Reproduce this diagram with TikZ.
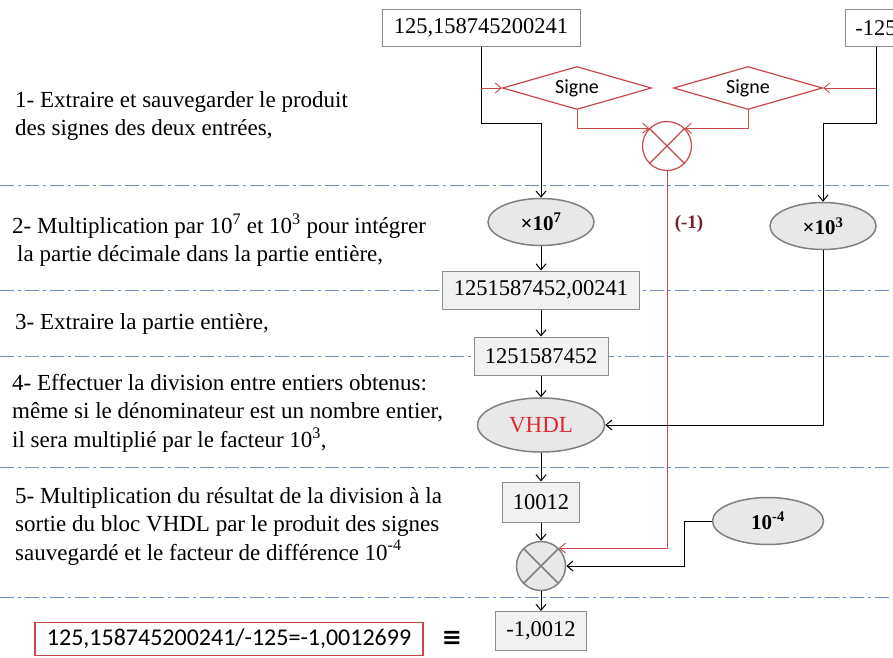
\documentclass[tikz,border=0pt]{standalone}
\usepackage{fontspec}
\setmainfont{Liberation Serif}
\newfontfamily\calib{Carlito}
\newfontfamily\dejavu{DejaVu Sans}
\usetikzlibrary{shapes.geometric,arrows.meta}
\definecolor{sigred}{RGB}{200,72,72}
\definecolor{vhdlred}{RGB}{225,40,50}
\definecolor{negred}{RGB}{120,30,40}
\definecolor{boxgray}{RGB}{140,140,140}
\definecolor{boxfill}{RGB}{242,242,242}
\definecolor{ellgray}{RGB}{128,128,128}
\definecolor{ellfill}{RGB}{232,232,232}
\definecolor{sepblue}{RGB}{110,140,190}
\tikzset{
  numbox/.style={draw=boxgray,fill=boxfill,line width=1pt,minimum height=38pt,inner sep=0pt,font=\fontsize{22.5}{27}\selectfont},
  inbox/.style={numbox,fill=white},
  gain/.style={ellipse,draw=ellgray,fill=ellfill,line width=1.5pt,inner sep=0pt,minimum width=106pt,minimum height=47pt,font=\bfseries\fontsize{21}{25}\selectfont},
  signbox/.style={diamond,aspect=3.5,draw=sigred,line width=1.2pt,inner sep=0pt,minimum width=149pt,minimum height=43pt,font=\calib\fontsize{20}{24}\selectfont},
  mult/.style={circle,minimum size=49pt,inner sep=0pt},
  sep/.style={draw=sepblue,line width=0.8pt,dash pattern=on 14pt off 4pt on 3pt off 4pt},
  steptext/.style={anchor=west,align=left,inner sep=0pt,font=\fontsize{23}{28.5}\selectfont},
  arr/.style={-{Straight Barb[length=6pt,width=10pt]},line width=1pt},
  redarr/.style={arr,draw=sigred,line width=0.9pt},
}
\begin{document}
\begin{tikzpicture}[x=1pt,y=-1pt]
\useasboundingbox (0,0) rectangle (893,657);
\clip (0,0) rectangle (893,657);
\fill[white] (0,0) rectangle (893,657);

\foreach \y in {185,290,356,467,597}
  \draw[sep] (0,\y) -- (893,\y);

\node[steptext] (t1) at (15,116) {1- Extraire et sauvegarder le produit\\des signes des deux entrées,};
\node[steptext] (t2) at (12,240) {2- Multiplication par 10\textsuperscript{7} et 10\textsuperscript{3} pour intégrer\\\hspace{5pt}la partie décimale dans la partie entière,};
\node[steptext] (t3) at (15,324) {3- Extraire la partie entière,};
\node[steptext] (t4) at (12,413) {4- Effectuer la division entre entiers obtenus:\\même si le dénominateur est un nombre entier,\\il sera multiplié par le facteur 10\textsuperscript{3},};
\node[steptext] (t5) at (15,526) {5- Multiplication du résultat de la division à la\\sortie du bloc VHDL par le produit des signes\\sauvegardé et le facteur de différence 10\textsuperscript{-4}};

\node[inbox,minimum width=198pt,minimum height=37pt] (in1) at (481,28) {125,158745200241};
\node[inbox,minimum width=62pt,minimum height=37pt] (in2) at (876,28) {-125};
\node[signbox] (s1) at (577,88) {Signe};
\node[signbox] (s2) at (748,88) {Signe};
\node[mult,draw=sigred,line width=1.2pt] (m1) at (667,146) {};
\coordinate (j1) at (0,123);

\node[gain] (e7) at (541,222) {×10\textsuperscript{7}};
\node[gain] (e3) at (823,226) {×10\textsuperscript{3}};
\node[text=negred,font=\bfseries\fontsize{19}{23}\selectfont] (neg) at (689,224) {(-1)};
\node[numbox,minimum width=197pt] (b1) at (541,290) {1251587452,00241};
\node[numbox,minimum width=134pt] (b2) at (541,356) {1251587452};
\node[gain,minimum width=127pt,minimum height=54pt,text=vhdlred,font=\fontsize{23}{27}\selectfont] (vh) at (541,425) {VHDL};
\node[numbox,minimum width=77pt,minimum height=40pt] (b3) at (541,502) {10012};
\node[mult,draw=ellgray,fill=ellfill,line width=1.5pt] (m2) at (541,566) {};
\node[gain,minimum width=111pt] (e4) at (768,521) {10\textsuperscript{-4}};
\node[numbox,minimum width=91pt,minimum height=39pt] (out) at (541,631) {-1,0012};
\node[draw=sigred,line width=1.2pt,minimum width=388pt,minimum height=33pt,inner sep=0pt,font=\calib\fontsize{24}{28}\selectfont] (res) at (229,639) {125,158745200241/-125=-1,0012699};
\node[font=\dejavu\bfseries\fontsize{24}{28}\selectfont] (eq) at (452,638) {≡};

\draw[sigred,line width=1.2pt] (m1.north west) -- (m1.south east) (m1.north east) -- (m1.south west);
\draw[ellgray,line width=1.5pt] (m2.north west) -- (m2.south east) (m2.north east) -- (m2.south west);

\draw[arr] (in1.south) -- (in1.south |- j1) -| (e7.north);
\draw[arr] (in2.south) -- (in2.south |- j1) -| (e3.north);
\draw[redarr] (in1.south |- s1.west) -- (s1.west);
\draw[redarr] (in2.south |- s2.east) -- (s2.east);
\draw[redarr] (s1.south) |- (m1.north west);
\draw[redarr] (s2.south) |- (m1.north east);
\draw[redarr] (m1.south) |- (m2.north east);

\draw[arr] (e7) -- (b1);
\draw[arr] (b1) -- (b2);
\draw[arr] (b2) -- (vh);
\draw[arr] (vh) -- (b3);
\draw[arr] (b3) -- (m2);
\draw[arr] (m2) -- (out);
\draw[arr] (e3.south) |- (vh.east);
\draw[arr] (e4.west) -- ++(-27,0) |- (m2.east);
\end{tikzpicture}
\end{document}
